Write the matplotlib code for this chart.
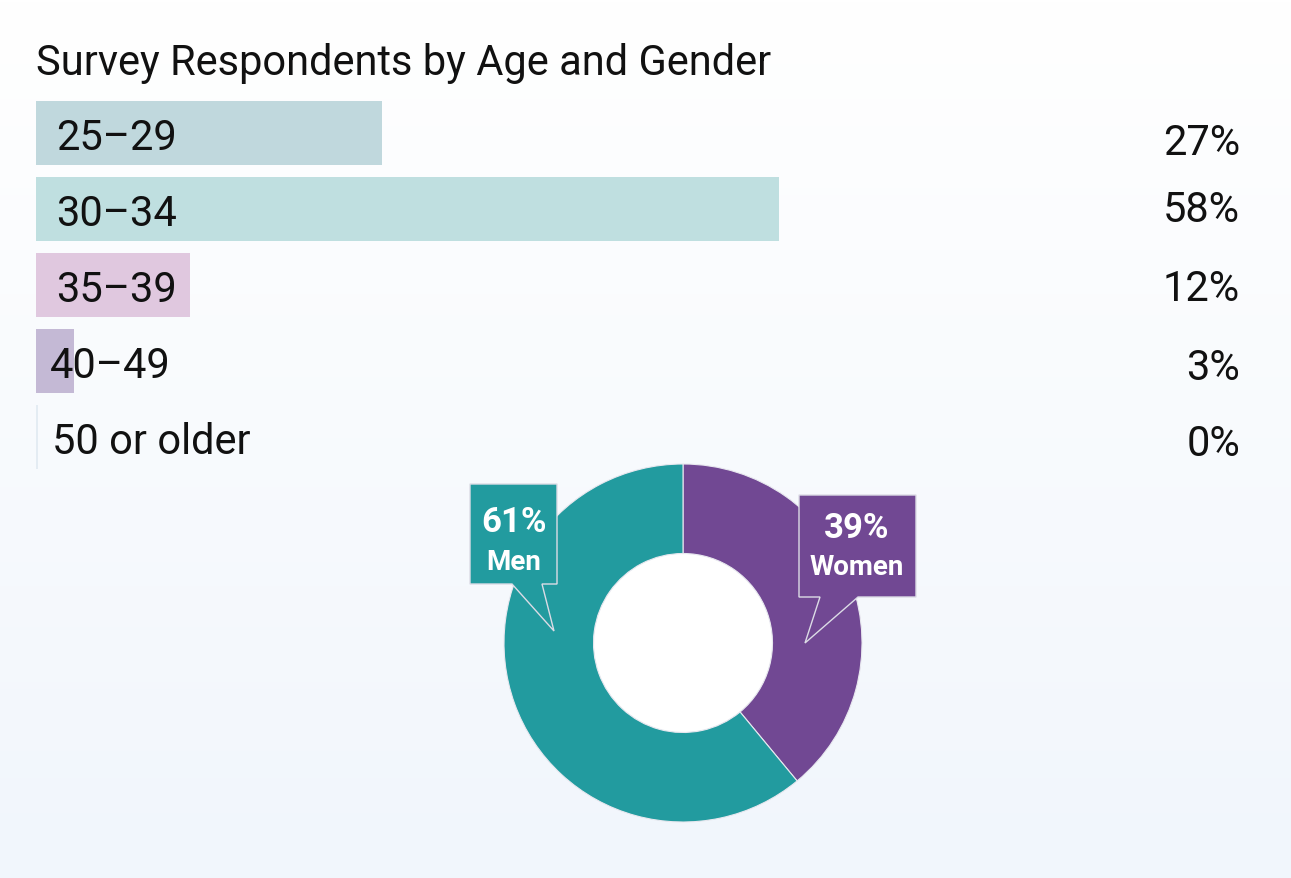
import matplotlib
matplotlib.use("Agg")
import matplotlib.pyplot as plt
import numpy as np
from matplotlib import font_manager
from matplotlib.patches import Polygon, Circle

# ---------------- data ----------------
age_groups = ["25\u201329", "30\u201334", "35\u201339", "40\u201349", "50 or older"]
age_share = [27, 58, 12, 3, 0]
age_colors = ["#c0d8dd", "#bfdfe0", "#e0c8df", "#c4b9d5", "#dde6ee"]

gender_labels = ["Women", "Men"]
gender_share = [39, 61]
gender_colors = ["#714893", "#229b9f"]

title = "Survey Respondents by Age and Gender"

# ---------------- fonts ----------------
names = {f.name for f in font_manager.fontManager.ttflist}
FONT = "Liberation Sans Narrow" if "Liberation Sans Narrow" in names else "Roboto"
plt.rcParams["font.family"] = [FONT, "DejaVu Sans"]

W, H = 1291, 879
fig = plt.figure(figsize=(W / 100, H / 100), dpi=100)

def px_axes(l, t, w, h, **kw):
    return fig.add_axes([l / W, 1 - (t + h) / H, w / W, h / H], **kw)

# background gradient
bg = fig.add_axes([0, 0, 1, 1], zorder=0)
grad = np.linspace(0, 1, 256).reshape(-1, 1)
top = np.array([1.0, 1.0, 1.0])
bot = np.array([0xf1, 0xf6, 0xfc]) / 255
img = top + (bot - top) * grad[..., None]
img = np.repeat(img, 2, axis=1)
bg.imshow(img, aspect="auto", extent=[0, 1, 0, 1], origin="upper")
bg.set_xlim(0, 1); bg.set_ylim(0, 1)
bg.axis("off")

# ---------------- bars ----------------
px_per_pct = 743 / 58
bar_left, bar_right = 36, 1240
axb = px_axes(bar_left, 96, bar_right - bar_left, 380, zorder=1)
axb.patch.set_alpha(0)
y = np.arange(len(age_groups))
axb.barh(y, age_share, height=64 / 76, color=age_colors, left=0)
axb.barh([4], [0.15], height=64 / 76, color="#e4ecf3")
axb.set_xlim(0, (bar_right - bar_left) / px_per_pct)
axb.set_ylim(len(age_groups) - 0.5, -0.5)
axb.axis("off")
label_dx = [20, 20, 20, 14, 16]
val_dy = [0.13, 0.0, 0.05, 0.08, 0.09]
for i, (g, v) in enumerate(zip(age_groups, age_share)):
    axb.annotate(g, xy=(0, i), xytext=(label_dx[i], -5), textcoords="offset pixels",
                 ha="left", va="center", fontsize=30, color="#111111")
    axb.text(1.0, i + val_dy[i], f"{v}%", transform=axb.get_yaxis_transform(),
             ha="right", va="center", fontsize=30, color="#111111")

# ---------------- donut ----------------
cx, cy, R = 683, 644, 179
axd = px_axes(cx - R, cy - R, 2 * R, 2 * R, zorder=2)
axd.pie(gender_share, colors=gender_colors, startangle=90, counterclock=False,
        radius=1.0, wedgeprops=dict(width=0.5, edgecolor="#e8e8ef", linewidth=0.8))
axd.add_patch(Circle((0, 0), 0.497, facecolor="white", edgecolor="none", zorder=0.5))
axd.set_xlim(-1, 1); axd.set_ylim(-1, 1)
axd.set_aspect("equal")
axd.axis("off")

# ---------------- overlay: title + callouts ----------------
ov = fig.add_axes([0, 0, 1, 1], zorder=5)
ov.set_xlim(0, W); ov.set_ylim(H, 0)
ov.axis("off")
ov.text(36, 64, title, ha="left", va="center", fontsize=30, color="#111111")

men_poly = [(470, 485), (557, 485), (557, 585), (542, 585), (554, 632), (512, 585), (470, 585)]
women_poly = [(799, 496), (916, 496), (916, 598), (858, 598), (805, 644), (820, 598), (799, 598)]
ov.add_patch(Polygon(women_poly, closed=True, facecolor=gender_colors[0],
                     edgecolor="#dcdce6", linewidth=1))
ov.add_patch(Polygon(men_poly, closed=True, facecolor=gender_colors[1],
                     edgecolor="#dcdce6", linewidth=1))
ov.text(514, 523, f"{gender_share[1]}%", ha="center", va="center", fontsize=25,
        fontweight="bold", color="white")
ov.text(514, 563, gender_labels[1], ha="center", va="center", fontsize=20,
        fontweight="bold", color="white")
ov.text(857, 529, f"{gender_share[0]}%", ha="center", va="center", fontsize=25,
        fontweight="bold", color="white")
ov.text(857, 568, gender_labels[0], ha="center", va="center", fontsize=20,
        fontweight="bold", color="white")

fig.savefig("out.png", dpi=100)
